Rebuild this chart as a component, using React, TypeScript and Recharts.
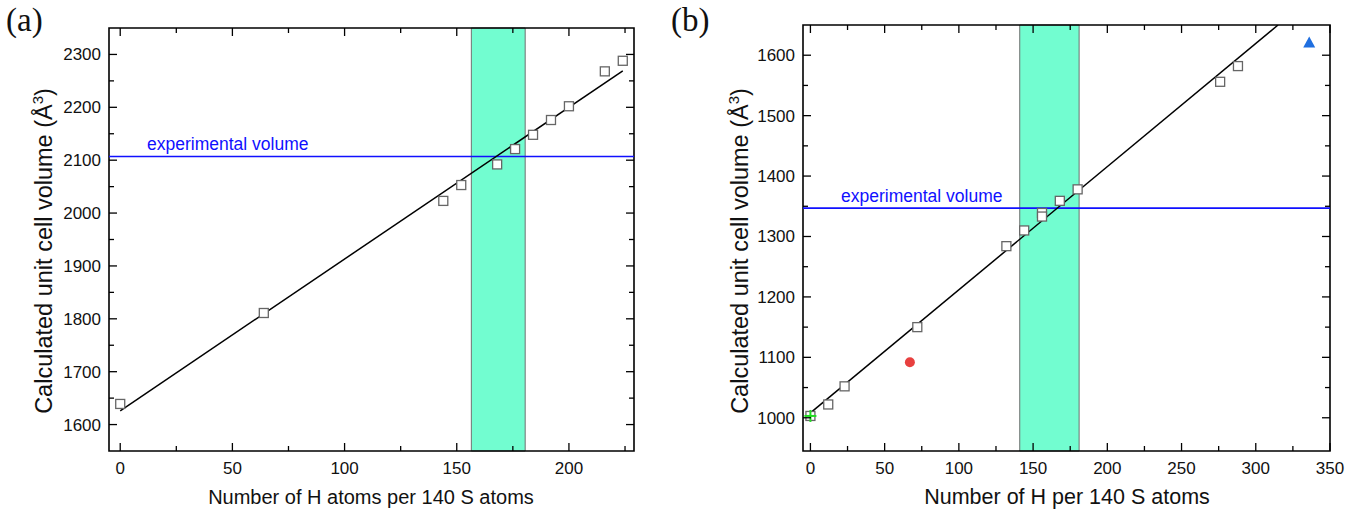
import { ComposedChart, Scatter, Line, XAxis, YAxis, ReferenceArea, ReferenceLine } from "recharts";

// panel (a): H atoms per 140 S atoms vs calculated volume
const hA = [0, 64, 144, 152, 168, 176, 184, 192, 200, 216, 224];
const volA = [1639, 1811, 2023, 2053, 2092, 2121, 2148, 2176, 2202, 2268, 2288];
const fitAx = [0, 224];
const fitAy = [1626, 2269];
const bandA = [156.5, 180.5];
const expA = 2107;
const xTicksA = [0, 25, 50, 75, 100, 125, 150, 175, 200, 225];
const yTicksA = [1600, 1650, 1700, 1750, 1800, 1850, 1900, 1950, 2000, 2050, 2100, 2150, 2200, 2250, 2300];

// panel (b)
const hB = [0, 12, 23, 72, 132, 144, 156, 156, 168, 180, 276, 288];
const volB = [1003, 1022, 1052, 1150, 1284, 1310, 1339, 1333, 1359, 1378, 1556, 1582];
const fitBx = [0, 315];
const fitBy = [1008, 1650];
const bandB = [141, 181];
const expB = 1347;
const redPt = { h: 67, v: 1092 };
const greenPt = { h: 0, v: 1003 };
const bluePt = { h: 336, v: 1621 };
const xTicksB = [0, 25, 50, 75, 100, 125, 150, 175, 200, 225, 250, 275, 300, 325, 350];
const yTicksB = [1000, 1050, 1100, 1150, 1200, 1250, 1300, 1350, 1400, 1450, 1500, 1550, 1600];

const sqA = hA.map((h, i) => ({ x: h, y: volA[i] }));
const sqB = hB.map((h, i) => ({ x: h, y: volB[i] }));
const lineA = fitAx.map((x, i) => ({ x, y: fitAy[i] }));
const lineB = fitBx.map((x, i) => ({ x, y: fitBy[i] }));

const FONT = "'Liberation Sans', Arial, sans-serif";

const xTick = (plotH: number, step: number) => (p: any) => {
  const v = p.payload.value;
  const major = v % step === 0;
  const len = major ? 8 : 5;
  return (
    <g>
      <line x1={p.x} y1={p.y} x2={p.x} y2={p.y - len} stroke="#000" strokeWidth={1.3} />
      <line x1={p.x} y1={p.y - plotH} x2={p.x} y2={p.y - plotH + len} stroke="#000" strokeWidth={1.3} />
      {major && (
        <text x={p.x} y={p.y + 23} textAnchor="middle" fontSize={17} fontFamily={FONT} fill="#111">
          {v}
        </text>
      )}
    </g>
  );
};

const yTick = (plotW: number, step: number) => (p: any) => {
  const v = p.payload.value;
  const major = v % step === 0;
  const len = major ? 8 : 5;
  return (
    <g>
      <line x1={p.x} y1={p.y} x2={p.x + len} y2={p.y} stroke="#000" strokeWidth={1.3} />
      <line x1={p.x + plotW} y1={p.y} x2={p.x + plotW - len} y2={p.y} stroke="#000" strokeWidth={1.3} />
      {major && (
        <text x={p.x - 8} y={p.y} dy="0.35em" textAnchor="end" fontSize={17} fontFamily={FONT} fill="#111">
          {v}
        </text>
      )}
    </g>
  );
};

const Square = (p: any) => (
  <rect x={p.cx - 4.5} y={p.cy - 4.5} width={9} height={9} fill="#fff" stroke="#666" strokeWidth={1.3} />
);
const Dot = (p: any) => <circle cx={p.cx} cy={p.cy} r={5} fill="#e8403f" />;
const Cross = (p: any) => (
  <g stroke="#22dd22" strokeWidth={2}>
    <line x1={p.cx - 6} y1={p.cy} x2={p.cx + 6} y2={p.cy} />
    <line x1={p.cx} y1={p.cy - 6} x2={p.cx} y2={p.cy + 6} />
  </g>
);
const Tri = (p: any) => (
  <path d={`M${p.cx},${p.cy - 6}L${p.cx + 6},${p.cy + 5}L${p.cx - 6},${p.cy + 5}Z`} fill="#1f6fe0" />
);

const yTitle = (cx: number, cy: number) => () => (
  <text x={cx} y={cy} transform={`rotate(-90 ${cx} ${cy})`} textAnchor="middle" fontSize={23.5} fontFamily={FONT} fill="#111">
    Calculated unit cell volume (Å
    <tspan dy={-9} fontSize={15}>3</tspan>
    <tspan dy={9}>)</tspan>
  </text>
);
const xTitle = (cx: number, cy: number, text: string, fs: number) => () => (
  <text x={cx} y={cy} textAnchor="middle" fontSize={fs} fontFamily={FONT} fill="#111">
    {text}
  </text>
);
const expLabel = (p: any) => (
  <text x={p.viewBox.x + 38} y={p.viewBox.y - 6} fontSize={17.5} fontFamily={FONT} fill="#1010ff">
    experimental volume
  </text>
);

const panelLabel = (left: number, text: string) => (
  <div
    style={{
      position: "absolute",
      left,
      top: 0,
      fontFamily: "'Liberation Serif', 'Times New Roman', serif",
      fontSize: 33,
      lineHeight: "40px",
      color: "#111",
    }}
  >
    {text}
  </div>
);

export default function App() {
  return (
    <div style={{ position: "absolute", left: 0, top: 0, width: 1361, height: 512, background: "#fff" }}>
      {panelLabel(6, "(a)")}
      {panelLabel(671, "(b)")}
      <div style={{ position: "absolute", left: 0, top: 0 }}>
        <ComposedChart width={650} height={512} margin={{ top: 28, right: 16, bottom: 0, left: 49 }}>
          <XAxis
            type="number"
            dataKey="x"
            domain={[-5, 229]}
            allowDataOverflow
            ticks={xTicksA}
            interval={0}
            tickSize={0}
            tickMargin={0}
            axisLine={false}
            tick={xTick(423, 50)}
            height={61}
            label={xTitle(371, 504, "Number of H atoms per 140 S atoms", 20)}
          />
          <YAxis
            type="number"
            dataKey="y"
            domain={[1550, 2350]}
            allowDataOverflow
            ticks={yTicksA}
            interval={0}
            tickSize={0}
            tickMargin={0}
            axisLine={false}
            tick={yTick(525, 100)}
            width={60}
            label={yTitle(52, 251)}
          />
          <ReferenceArea x1={bandA[0]} x2={bandA[1]} y1={1550} y2={2350} fill="#72fdd0" fillOpacity={1} stroke="#707070" strokeWidth={1} />
          <ReferenceLine y={expA} stroke="#1010ff" strokeWidth={1.6} label={expLabel} />
          <Line data={lineA} dataKey="y" stroke="#000" strokeWidth={1.5} dot={false} isAnimationActive={false} />
          <Scatter data={sqA} shape={Square} isAnimationActive={false} />
          <ReferenceArea x1={-5} x2={229} y1={1550} y2={2350} fill="none" stroke="#000" strokeWidth={1.6} />
        </ComposedChart>
      </div>
      <div style={{ position: "absolute", left: 660, top: 0 }}>
        <ComposedChart width={701} height={512} margin={{ top: 25, right: 31, bottom: 0, left: 83 }}>
          <XAxis
            type="number"
            dataKey="x"
            domain={[-5, 350]}
            allowDataOverflow
            ticks={xTicksB}
            interval={0}
            tickSize={0}
            tickMargin={0}
            axisLine={false}
            tick={xTick(426, 50)}
            height={61}
            label={xTitle(407, 504, "Number of H per 140 S atoms", 21.5)}
          />
          <YAxis
            type="number"
            dataKey="y"
            domain={[945, 1650]}
            allowDataOverflow
            ticks={yTicksB}
            interval={0}
            tickSize={0}
            tickMargin={0}
            axisLine={false}
            tick={yTick(527, 100)}
            width={60}
            label={yTitle(88, 251)}
          />
          <ReferenceArea x1={bandB[0]} x2={bandB[1]} y1={945} y2={1650} fill="#72fdd0" fillOpacity={1} stroke="#707070" strokeWidth={1} />
          <ReferenceLine y={expB} stroke="#1010ff" strokeWidth={1.6} label={expLabel} />
          <Line data={lineB} dataKey="y" stroke="#000" strokeWidth={1.5} dot={false} isAnimationActive={false} />
          <Scatter data={sqB} shape={Square} isAnimationActive={false} />
          <Scatter data={[{ x: redPt.h, y: redPt.v }]} shape={Dot} isAnimationActive={false} />
          <Scatter data={[{ x: greenPt.h, y: greenPt.v }]} shape={Cross} isAnimationActive={false} />
          <Scatter data={[{ x: bluePt.h, y: bluePt.v }]} shape={Tri} isAnimationActive={false} />
          <ReferenceArea x1={-5} x2={350} y1={945} y2={1650} fill="none" stroke="#000" strokeWidth={1.6} />
        </ComposedChart>
      </div>
    </div>
  );
}
